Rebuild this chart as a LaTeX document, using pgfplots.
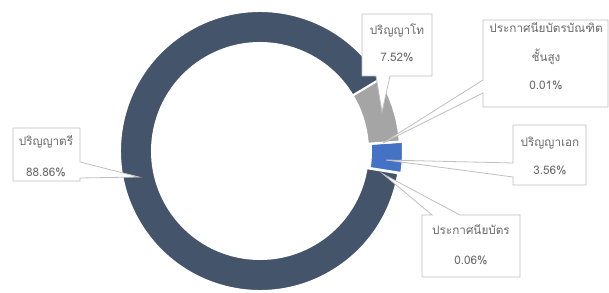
\documentclass[border=0pt]{standalone}
\usepackage{fontspec}
\usepackage{pgfplots}
\usepackage{pgfplotstable}
\pgfplotsset{compat=1.18}
\newfontfamily\thai[Script=Thai]{Loma}
\definecolor{slicedark}{HTML}{44546A}
\definecolor{sliceblue}{HTML}{4472C4}
\definecolor{slicegray}{HTML}{A5A5A5}
\definecolor{boxline}{HTML}{BFBFBF}
\definecolor{labeltext}{HTML}{6A6A6A}
\tikzset{lab/.style={font=\thai\fontsize{11.8}{13}\selectfont, text=labeltext}}

\pgfplotstableread{
value color explode
0.06 slicedark 0
3.56 sliceblue 3
0.01 slicegray 0
7.52 slicegray 0
88.86 slicedark 0
}\slices

\begin{document}
\begin{tikzpicture}
\useasboundingbox (0,0) rectangle (609bp,293bp);
\clip (0,0) rectangle (609bp,293bp);
\begin{axis}[
  at={(0,0)}, anchor=south west,
  scale only axis, width=609bp, height=293bp,
  xmin=0, xmax=609, ymin=0, ymax=293,
  hide axis, clip=false,
]
\pgfplotsextra{
  \coordinate (c) at (axis cs:260,142);
  \pgfplotstablegetrowsof{\slices}
  \pgfmathtruncatemacro\N{\pgfplotsretval-1}
  \xdef\acc{-9.2}
  \foreach \i in {0,...,\N}{
    \pgfplotstablegetelem{\i}{value}\of\slices \let\v\pgfplotsretval
    \pgfplotstablegetelem{\i}{color}\of\slices \let\col\pgfplotsretval
    \pgfplotstablegetelem{\i}{explode}\of\slices \let\ex\pgfplotsretval
    \pgfmathsetmacro\aone{\acc}
    \pgfmathsetmacro\atwo{\acc+3.6*\v}
    \pgfmathsetmacro\amid{(\aone+\atwo)/2}
    \coordinate (cc) at ([shift={(\amid:\ex bp)}]c);
    \fill[fill=\col, draw=white, line width=2bp, line join=miter]
      ([shift={(\aone:140bp)}]cc) arc[start angle=\aone, end angle=\atwo, radius=140bp]
      -- ([shift={(\atwo:108bp)}]cc) arc[start angle=\atwo, end angle=\aone, radius=108bp] -- cycle;
    \xdef\acc{\atwo}
  }
}
% callouts
\filldraw[fill=white, draw=boxline, line width=0.8bp]
  (axis cs:362,279) -- (axis cs:432,279) -- (axis cs:432,217) -- (axis cs:390,217)
  -- (axis cs:382,181) -- (axis cs:376,217) -- (axis cs:362,217) -- cycle;
\filldraw[fill=white, draw=boxline, line width=0.8bp]
  (axis cs:483,273) -- (axis cs:608,273) -- (axis cs:608,186) -- (axis cs:483,186)
  -- (axis cs:483,200) -- (axis cs:383,150) -- (axis cs:483,213) -- cycle;
\filldraw[fill=white, draw=boxline, line width=0.8bp]
  (axis cs:513,168) -- (axis cs:586,168) -- (axis cs:586,108) -- (axis cs:513,108)
  -- (axis cs:513,116) -- (axis cs:386,133) -- (axis cs:513,130) -- cycle;
\filldraw[fill=white, draw=boxline, line width=0.8bp]
  (axis cs:422,78) -- (axis cs:432,78) -- (axis cs:383,119) -- (axis cs:460,78)
  -- (axis cs:520,78) -- (axis cs:520,16) -- (axis cs:422,16) -- cycle;
\filldraw[fill=white, draw=boxline, line width=0.8bp]
  (axis cs:13,165) -- (axis cs:80,165) -- (axis cs:80,131) -- (axis cs:139,116)
  -- (axis cs:80,115) -- (axis cs:80,112) -- (axis cs:13,112) -- cycle;
% labels
\node[lab] at (axis cs:397,262) {ปริญญาโท};
\node[lab] at (axis cs:397,236) {7.52\%};
\node[lab] at (axis cs:546,265) {ประกาศนียบัตรบัณฑิต};
\node[lab] at (axis cs:546,236) {ชั้นสูง};
\node[lab] at (axis cs:546,208) {0.01\%};
\node[lab] at (axis cs:550,150) {ปริญญาเอก};
\node[lab] at (axis cs:550,123) {3.56\%};
\node[lab] at (axis cs:471,63) {ประกาศนียบัตร};
\node[lab] at (axis cs:471,33) {0.06\%};
\node[lab] at (axis cs:46,151) {ปริญญาตรี};
\node[lab] at (axis cs:46,121) {88.86\%};
\end{axis}
\end{tikzpicture}
\end{document}
